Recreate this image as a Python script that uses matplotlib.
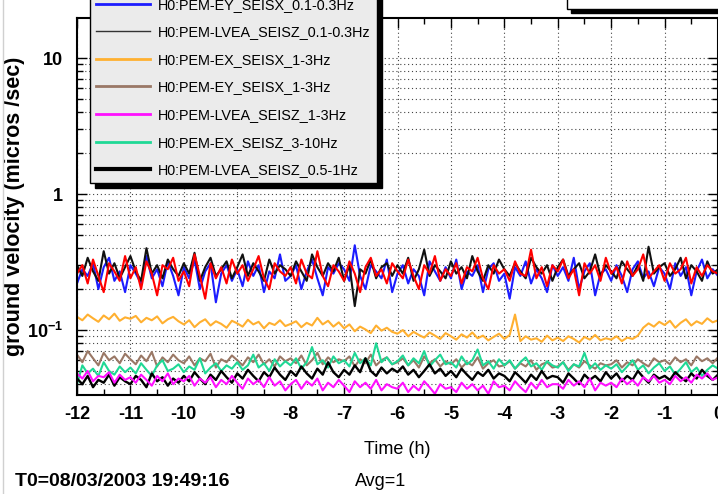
import numpy as np
import matplotlib
matplotlib.use('Agg')
import matplotlib.pyplot as plt
from matplotlib.ticker import LogLocator, NullFormatter, MultipleLocator
from matplotlib.patches import Rectangle
from matplotlib.lines import Line2D

plt.rcParams['font.family'] = ['Liberation Sans', 'DejaVu Sans']
plt.rcParams['mathtext.fontset'] = 'custom'
plt.rcParams['mathtext.rm'] = 'Liberation Sans'
plt.rcParams['mathtext.bf'] = 'Liberation Sans:bold'

# ---------------- data (values in 1e-3 micros/sec, one sample every 6 min) ----------------
n_samples = 121
t_hours = np.arange(n_samples) / 10.0 - 12.0

red_vals = [260, 300, 220, 330, 250, 190, 310, 270, 230, 350,
            240, 290, 200, 320, 260, 180, 300, 280, 340, 230,
            270, 210, 360, 250, 170, 310, 240, 290, 220, 330,
            260, 300, 230, 280, 350, 240, 200, 310, 270, 250,
            290, 220, 330, 260, 240, 380, 250, 210, 300, 270,
            230, 320, 260, 190, 290, 340, 250, 280, 220, 310,
            270, 240, 330, 250, 200, 300, 260, 350, 230, 280,
            250, 310, 220, 290, 270, 340, 240, 200, 300, 260,
            280, 230, 320, 260, 250, 390, 240, 290, 210, 300,
            270, 330, 240, 280, 180, 310, 260, 300, 230, 340,
            260, 290, 220, 320, 250, 280, 360, 240, 270, 300,
            230, 310, 260, 280, 340, 220, 290, 250, 300, 270,
            260]
blue_vals = [220, 280, 250, 310, 200, 290, 340, 230, 270, 190,
             300, 260, 220, 350, 240, 280, 210, 320, 250, 180,
             290, 240, 330, 200, 270, 310, 160, 260, 300, 230,
             280, 210, 320, 250, 300, 190, 270, 240, 360, 230,
             250, 300, 200, 270, 330, 240, 180, 290, 260, 310,
             280, 230, 420, 250, 200, 300, 270, 240, 330, 190,
             260, 300, 220, 280, 250, 180, 320, 270, 230, 290,
             240, 330, 200, 270, 250, 300, 190, 280, 310, 230,
             260, 170, 290, 250, 320, 220, 280, 240, 190, 300,
             250, 290, 230, 340, 200, 270, 310, 180, 260, 280,
             230, 300, 250, 190, 280, 320, 240, 270, 210, 290,
             260, 200, 310, 250, 290, 180, 270, 330, 240, 280,
             250]
dark_vals = [300, 250, 340, 270, 230, 380, 260, 310, 240, 290,
             350, 270, 230, 400, 260, 300, 240, 330, 280, 250,
             310, 260, 370, 230, 290, 340, 250, 280, 320, 240,
             290, 360, 250, 310, 270, 230, 330, 260, 300, 280,
             250, 320, 270, 230, 360, 290, 250, 310, 270, 340,
             230, 300, 150, 280, 260, 330, 240, 290, 310, 250,
             300, 260, 340, 230, 280, 390, 250, 300, 270, 240,
             320, 260, 290, 240, 350, 270, 230, 300, 260, 330,
             280, 250, 310, 270, 240, 340, 290, 260, 300, 230,
             290, 330, 250, 280, 310, 240, 270, 360, 250, 300,
             270, 240, 320, 280, 250, 300, 230, 410, 260, 290,
             310, 250, 280, 340, 240, 300, 270, 230, 320, 260,
             280]
orange_vals = [125, 118, 130, 122, 115, 128, 120, 132, 117, 124,
               121, 127, 114, 123, 118, 126, 112, 120, 125, 116,
               110, 118, 105, 114, 120, 108, 116, 111, 104, 117,
               112, 106, 119, 110, 115, 103, 113, 109, 118, 107,
               111, 116, 105, 113, 108, 123, 110, 117, 106, 114,
               103, 110, 98, 106, 101, 95, 108, 99, 104, 97,
               94, 100, 90, 97, 92, 88, 96, 91, 86, 95,
               90, 85, 93, 88, 96, 87, 91, 84, 89, 94,
               86, 92, 130, 83, 90, 85, 87, 82, 91, 84,
               88, 83, 90, 86, 81, 89, 85, 92, 84, 87,
               85, 90, 83, 88, 86, 91, 104, 112, 106, 115,
               109, 117, 104, 113, 120, 108, 116, 111, 122, 114,
               118]
brown_vals = [66, 58, 70, 62, 55, 68, 60, 64, 57, 67,
              61, 56, 65, 59, 69, 54, 63, 58, 66, 60,
              57, 64, 55, 62, 59, 67, 53, 61, 58, 65,
              60, 55, 63, 58, 66, 56, 61, 54, 64, 59,
              62, 57, 65, 55, 60, 68, 56, 63, 58, 61,
              59, 64, 54, 61, 57, 66, 55, 60, 63, 56,
              58, 62, 55, 60, 53, 64, 57, 61, 54, 59,
              56, 61, 53, 58, 55, 63, 52, 57, 60, 54,
              55, 59, 52, 57, 54, 60, 51, 56, 58, 53,
              54, 58, 51, 56, 53, 59, 55, 52, 57, 55,
              56, 60, 53, 58, 55, 61, 57, 54, 62, 58,
              60, 56, 63, 58, 61, 55, 64, 59, 62, 57,
              63]
green_vals = [40, 55, 48, 52, 46, 58, 50, 47, 54, 49,
              53, 48, 57, 51, 46, 55, 60, 50, 52, 56,
              49, 54, 51, 62, 48, 53, 57, 50, 55, 52,
              58, 51, 55, 66, 53, 57, 50, 61, 54, 59,
              55, 62, 52, 58, 75, 56, 60, 53, 64, 57,
              60, 54, 68, 57, 62, 55, 80, 58, 63, 56,
              59, 65, 55, 62, 57, 70, 54, 60, 66, 56,
              58, 53, 64, 56, 60, 72, 55, 59, 52, 61,
              55, 60, 52, 58, 63, 54, 57, 51, 59, 55,
              53, 58, 50, 56, 54, 68, 52, 57, 51, 55,
              52, 56, 49, 54, 60, 51, 55, 48, 53, 57,
              50, 54, 47, 52, 58, 49, 53, 46, 51, 55,
              52]
black_vals = [44, 40, 46, 38, 43, 41, 47, 39, 45, 42,
              40, 46, 43, 38, 48, 42, 45, 39, 44, 41,
              46, 42, 49, 44, 40, 47, 43, 50, 45, 41,
              48, 44, 51, 46, 42, 49, 45, 53, 47, 43,
              50, 46, 54, 48, 44, 52, 47, 58, 49, 45,
              51, 47, 55, 49, 62, 50, 46, 53, 48, 52,
              49, 54, 47, 51, 45, 50, 56, 48, 52, 46,
              50, 45, 52, 47, 43, 49, 46, 51, 44, 48,
              46, 42, 49, 45, 41, 47, 43, 50, 44, 46,
              45, 41, 48, 44, 40, 47, 43, 46, 42, 49,
              44, 48, 42, 46, 43, 50, 45, 41, 47, 44,
              46, 43, 49, 45, 42, 48, 44, 51, 46, 43,
              47]
magenta_vals = [48, 44, 50, 42, 46, 45, 49, 41, 47, 43,
                45, 41, 47, 43, 39, 46, 42, 48, 40, 44,
                42, 46, 39, 44, 41, 45, 38, 43, 40, 46,
                41, 37, 44, 40, 43, 38, 45, 39, 42, 36,
                40, 43, 37, 42, 39, 44, 36, 41, 38, 43,
                39, 35, 42, 38, 41, 37, 43, 36, 40, 38,
                37, 41, 35, 39, 36, 42, 38, 34, 40, 37,
                38, 35, 41, 37, 40, 36, 39, 34, 42, 38,
                39, 36, 42, 38, 35, 41, 37, 43, 38, 40,
                40, 37, 43, 39, 42, 38, 44, 36, 41, 39,
                41, 38, 44, 40, 43, 39, 45, 42, 46, 41,
                43, 40, 46, 42, 45, 41, 47, 44, 48, 43,
                45]

channel_names = ["H0:PEM-LVEA_SEISX_0.1-0.3Hz",
                 "H0:PEM-EY_SEISX_0.1-0.3Hz",
                 "H0:PEM-LVEA_SEISZ_0.1-0.3Hz",
                 "H0:PEM-EX_SEISX_1-3Hz",
                 "H0:PEM-EY_SEISX_1-3Hz",
                 "H0:PEM-LVEA_SEISZ_1-3Hz",
                 "H0:PEM-EX_SEISZ_3-10Hz",
                 "H0:PEM-LVEA_SEISZ_0.5-1Hz"]

x_ticks = list(range(-12, 1))
x_tick_labels = [str(v) for v in x_ticks]
y_ticks = [0.1, 1, 10]
y_tick_labels = [r'$\mathbf{10^{-1}}$', '1', '10']

# ---------------- figure ----------------
W, H = 718, 494
fig = plt.figure(figsize=(W / 100, H / 100), dpi=100)
ax = fig.add_axes([77 / W, 1 - 395 / H, (718 - 77) / W, (395 - 18) / H])

styles = [  # (values, color, lw)
    (blue_vals, '#1c1cff', 1.5),
    (dark_vals, '#111111', 1.5),
    (red_vals, '#ff0000', 1.5),
    (orange_vals, '#ffb030', 1.5),
    (brown_vals, '#9a7866', 1.5),
    (green_vals, '#1fd895', 1.5),
    (black_vals, '#000000', 1.7),
    (magenta_vals, '#ff10ff', 1.5),
]
for vals, col, lw in styles:
    ax.plot(t_hours, np.array(vals) * 1e-3, color=col, lw=lw)

ax.set_yscale('log')
ax.set_xlim(-12, 0)
ax.set_ylim(0.0333, 19.7)

ax.set_xticks(x_ticks)
ax.set_xticklabels(x_tick_labels, fontweight='bold', fontsize=13)
ax.xaxis.set_minor_locator(MultipleLocator(0.5))
ax.set_yticks(y_ticks)
ax.set_yticklabels(y_tick_labels, fontweight='bold', fontsize=13)
ax.yaxis.set_minor_locator(LogLocator(base=10, subs=range(2, 10)))
ax.yaxis.set_minor_formatter(NullFormatter())

ax.tick_params(which='both', direction='in', top=True, right=True, width=1)
ax.tick_params(which='major', length=7)
ax.tick_params(which='minor', length=4)
ax.tick_params(axis='x', which='major', pad=8)
ax.tick_params(axis='y', which='major', pad=10)
for sp in ax.spines.values():
    sp.set_linewidth(1.5)

ax.grid(True, which='major', axis='both', ls=(0, (1, 2.5)), color='#444444', lw=0.8)
ax.grid(True, which='minor', axis='y', ls=(0, (1, 2.5)), color='#444444', lw=0.8)

ax.set_xlabel('Time (h)', fontsize=13, labelpad=13)
ax.set_ylabel('ground velocity (micros /sec)', fontsize=15.5, fontweight='bold')
ax.yaxis.set_label_coords(-52 / 641, 0.5)

# legend (top part cut off by the figure edge, as in the reference)
leg_order = [('#ff0000', 2.0, channel_names[0]),
             ('#1c1cff', 2.0, channel_names[1]),
             ('#333333', 1.0, channel_names[2]),
             ('#ffb030', 2.0, channel_names[3]),
             ('#9a7866', 2.0, channel_names[4]),
             ('#ff10ff', 2.0, channel_names[5]),
             ('#1fd895', 2.0, channel_names[6]),
             ('#000000', 3.0, channel_names[7])]
handles = [Line2D([], [], color=c, lw=l) for c, l, _ in leg_order]
labels = [n for _, _, n in leg_order]
fig.legend(handles, labels, loc='lower left',
           bbox_to_anchor=(90 / W, 1 - 183 / H), bbox_transform=fig.transFigure,
           borderaxespad=0, fancybox=False, facecolor='#ebebeb', edgecolor='black',
           framealpha=1, fontsize=10.4, handlelength=3.75, handletextpad=0.55,
           labelspacing=0.94, borderpad=0.4,
           shadow={'color': 'black', 'alpha': 1, 'ox': 3.5, 'oy': -3.5})

# partial box at top right
fig.patches.append(Rectangle((571 / W, 1 - 13 / H), 200 / W, 40 / H, transform=fig.transFigure,
                             fc='black', ec='black', zorder=3))
fig.patches.append(Rectangle((567 / W, 1 - 9 / H), 200 / W, 40 / H, transform=fig.transFigure,
                             fc='white', ec='black', lw=1, zorder=4))
fig.add_artist(Line2D([2.5 / W, 2.5 / W], [0, 1], color='#d0d0d0', lw=1))

fig.text(15 / W, 1 - 481 / H, 'T0=08/03/2003 19:49:16', fontsize=14, fontweight='bold',
         va='center', ha='left')
fig.text(355 / W, 1 - 481 / H, 'Avg=1', fontsize=13, va='center', ha='left')

fig.savefig('out.png', dpi=100)
